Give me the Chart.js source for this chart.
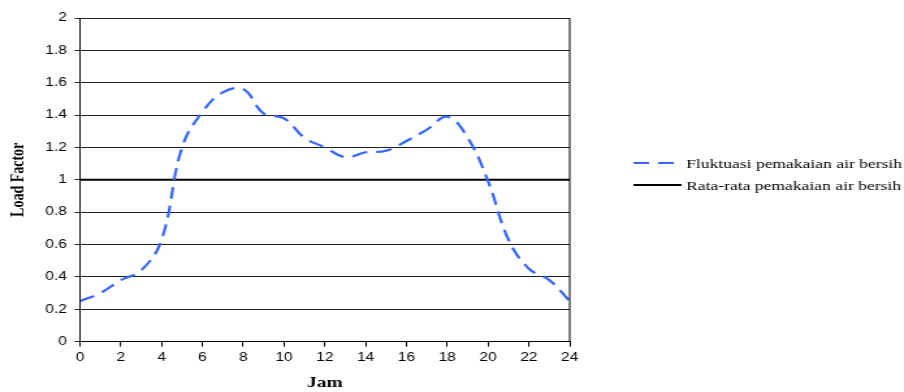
<!DOCTYPE html>
<html>
<head>
<meta charset="utf-8">
<script src="https://cdn.jsdelivr.net/npm/chart.js@4"></script>
<style>
  html, body { margin: 0; padding: 0; background: #fff; overflow: hidden; }
  /* the original picture is stretched sideways, so draw narrow and stretch */
  #chart { transform: scaleX(1.3007); transform-origin: 0 0; display: block; }
</style>
</head>
<body>
<canvas id="chart" width="695" height="392"></canvas>
<script>
// Data
const jam = [0, 1, 2, 3, 4, 5, 6, 7, 8, 9, 10, 11, 12, 13, 14, 15, 16, 17, 18, 19, 20, 21, 22, 23, 24];
const fluktuasi = [0.25, 0.30, 0.38, 0.44, 0.63, 1.20, 1.42, 1.54, 1.56, 1.41, 1.38, 1.26, 1.20,
                   1.14, 1.17, 1.18, 1.24, 1.31, 1.39, 1.26, 0.99, 0.63, 0.45, 0.38, 0.25];
const rataJam = [0, 24];
const rataRata = [1, 1];
const seriesLabels = ['Fluktuasi pemakaian air bersih', 'Rata-rata pemakaian air bersih'];

const toPoints = (xs, ys) => xs.map((x, i) => ({x: x, y: ys[i]}));

// right border of the plot area
const plotBorder = {
  id: 'plotBorder',
  afterDraw(chart) {
    const {ctx, chartArea} = chart;
    ctx.save();
    ctx.strokeStyle = '#000';
    ctx.lineWidth = 1;
    ctx.beginPath();
    ctx.moveTo(chartArea.right, chartArea.top);
    ctx.lineTo(chartArea.right, chartArea.bottom);
    ctx.stroke();
    ctx.restore();
  }
};

// legend on the right, drawn by hand so it sits where the original has it
const sideLegend = {
  id: 'sideLegend',
  afterDraw(chart) {
    const ctx = chart.ctx;
    const x0 = 487, x1 = 524, tx = 527.5;
    const rows = [163, 185];
    ctx.save();
    chart.data.datasets.forEach((ds, i) => {
      const y = rows[i];
      ctx.strokeStyle = ds.borderColor;
      ctx.lineWidth = ds.borderWidth;
      ctx.setLineDash(ds.borderDash || []);
      ctx.beginPath();
      ctx.moveTo(x0, y);
      ctx.lineTo(x1, y);
      ctx.stroke();
      ctx.setLineDash([]);
      ctx.fillStyle = '#000';
      ctx.font = '13.5px "Liberation Serif", "Times New Roman", serif';
      ctx.textBaseline = 'middle';
      ctx.fillText(ds.label, tx, y + 1);
    });
    ctx.restore();
  }
};

new Chart(document.getElementById('chart'), {
  type: 'line',
  data: {
    datasets: [
      {
        label: seriesLabels[0],
        data: toPoints(jam, fluktuasi),
        borderColor: '#3366ff',
        borderWidth: 2.2,
        borderDash: [12, 7],
        pointRadius: 0,
        tension: 0.4,
        fill: false
      },
      {
        label: seriesLabels[1],
        data: toPoints(rataJam, rataRata),
        borderColor: '#000',
        borderWidth: 2,
        pointRadius: 0,
        tension: 0,
        fill: false
      }
    ]
  },
  options: {
    responsive: false,
    animation: false,
    layout: {padding: {top: 18, right: 257, bottom: 0, left: 0}},
    plugins: {legend: {display: false}, tooltip: {enabled: false}},
    scales: {
      x: {
        type: 'linear',
        min: 0,
        max: 24,
        ticks: {stepSize: 2, color: '#000', padding: 4, font: {family: 'Liberation Sans, Arial', size: 12}, maxRotation: 0},
        grid: {drawOnChartArea: false, drawTicks: true, tickLength: 5, color: '#000'},
        border: {color: '#000', width: 1},
        title: {
          display: true, text: 'Jam', color: '#000',
          font: {family: 'Liberation Serif, Times New Roman', size: 15, weight: 'bold'},
          padding: {top: 5, bottom: 0}
        }
      },
      y: {
        min: 0,
        max: 2,
        ticks: {
          stepSize: 0.2, color: '#000', padding: 6,
          font: {family: 'Liberation Sans, Arial', size: 12},
          callback: v => String(Math.round(v * 10) / 10)
        },
        grid: {color: '#222', lineWidth: 1, tickLength: 4},
        border: {color: '#000', width: 1},
        title: {
          display: true, text: 'Load Factor', color: '#000',
          font: {family: 'Liberation Serif, Times New Roman', size: 14, weight: 'bold'},
          padding: {top: 6, bottom: 6}
        }
      }
    }
  },
  plugins: [plotBorder, sideLegend]
});
</script>
</body>
</html>
